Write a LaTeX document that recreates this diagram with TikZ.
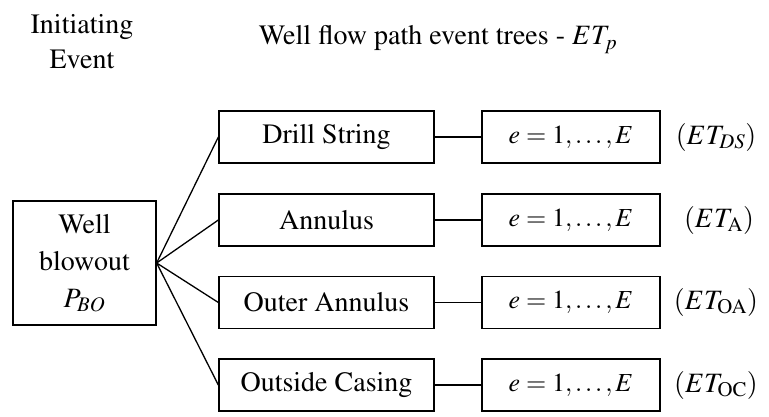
\documentclass[tikz,border=0pt]{standalone}
\usepackage[T1]{fontenc}
\usepackage{mathptmx}
\usetikzlibrary{positioning}
\definecolor{wbline}{RGB}{0,0,0}
\tikzset{
  box/.style={draw=wbline, line width=1.3pt, align=center, inner sep=0pt,
              font=\fontsize{28}{37}\selectfont},
  src/.style={box, minimum width=143pt, minimum height=124pt},
  flow/.style={box, minimum width=215pt, minimum height=52pt},
  evt/.style={box, minimum width=178pt, minimum height=52pt,
              font=\fontsize{26}{37}\selectfont},
  lab/.style={align=center, font=\fontsize{28}{35}\selectfont},
  link/.style={line width=1.3pt, draw=wbline}
}

\begin{document}
\begin{tikzpicture}[x=1pt, y=1pt]
  \useasboundingbox (0,0) rectangle (769,416);
  % headings
  \node[lab] (init) at (82,374) {Initiating\\Event};
  \node[lab, anchor=base] (title) at (438,371) {Well flow path event trees - $ET_p$};
  % initiating event
  \node[src] (blow) at (84.5,153) {Well\\blowout\\$P_{BO}$};
  % flow paths
  \node[flow] (ds) at (326.5,279) {Drill String};
  \node[flow] (an) at (326.5,196) {Annulus};
  \node[flow] (oa) at (326.5,113.5) {Outer Annulus};
  \node[flow] (oc) at (326.5,31) {Outside Casing};
  % event trees
  \node[evt] (eds) at (571,279) {$e = 1, \ldots, E$};
  \node[evt] (ean) at (571,196) {$e = 1, \ldots, E$};
  \node[evt] (eoa) at (571,113.5) {$e = 1, \ldots, E$};
  \node[evt] (eoc) at (571,31) {$e = 1, \ldots, E$};
  \node[lab] (tds) at (716,279) {$(ET_{DS})$};
  \node[lab] (tan) at (719,196) {$(ET_{\mathrm{A}})$};
  \node[lab] (toa) at (716,113.5) {$(ET_{\mathrm{OA}})$};
  \node[lab] (toc) at (716,31) {$(ET_{\mathrm{OC}})$};
  % links
  \draw[link] (blow.east) -- (ds.west);
  \draw[link] (blow.east) -- (an.west);
  \draw[link] (blow.east) -- (oa.west);
  \draw[link] (blow.east) -- (oc.west);
  \draw[link] (ds.east) -- (eds.west);
  \draw[link] (an.east) -- (ean.west);
  \draw[link] (oa.east) -- (eoa.west);
  \draw[link] (oc.east) -- (eoc.west);
\end{tikzpicture}
\end{document}
